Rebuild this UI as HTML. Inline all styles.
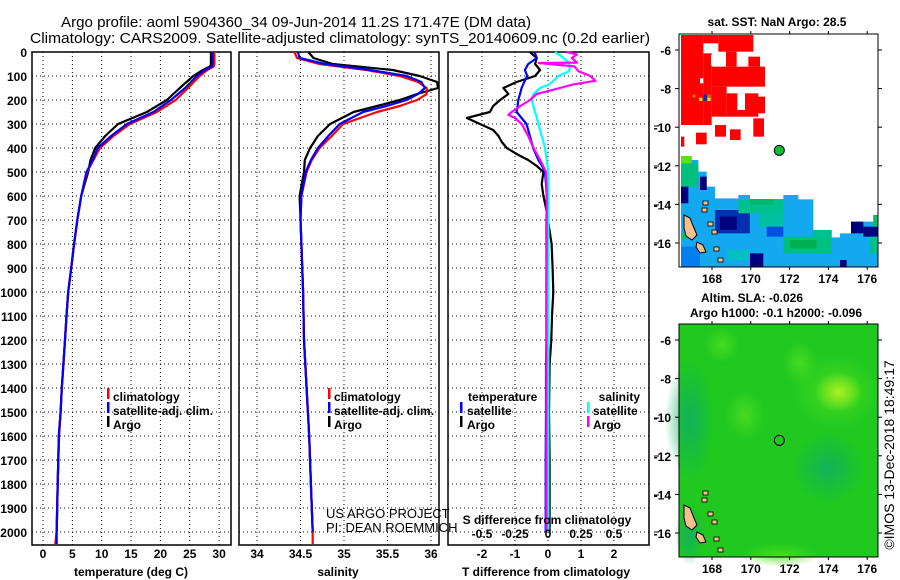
<!DOCTYPE html>
<html><head><meta charset="utf-8"><style>
html,body{margin:0;padding:0;background:#fff;width:900px;height:580px;overflow:hidden}
svg text{font-family:"Liberation Sans",Arial,sans-serif}
.b{font-weight:bold;font-size:12px}
.n{font-weight:normal;font-size:13px}
</style></head><body>
<svg id="fig" xmlns="http://www.w3.org/2000/svg" width="900" height="580" viewBox="0 0 900 580">
<text x="296" y="27" font-size="15" text-anchor="middle" textLength="470" lengthAdjust="spacingAndGlyphs">Argo profile: aoml 5904360_34 09-Jun-2014 11.2S 171.47E (DM data)</text>
<text x="340" y="43" font-size="15" text-anchor="middle" textLength="620" lengthAdjust="spacingAndGlyphs">Climatology: CARS2009. Satellite-adjusted climatology: synTS_20140609.nc (0.2d earlier)</text>
<g id="panels"></g>
<g id="maps"></g>
<text transform="translate(894,455) rotate(-90)" font-size="14" text-anchor="middle">©IMOS 13-Dec-2018 18:49:17</text>
</svg>
<script>
// ---------- data ----------
const depthLevels = [0,25,50,60,75,100,150,200,250,300,350,400,450,500,600,700,800,900,1000,1100,1200,1400,1500,1600,1800,2000,2050];
const tempClim = [29.2,29.2,29.2,29.1,28.0,26.7,24.7,22.6,19.4,14.8,12.0,9.7,8.6,7.5,6.5,5.85,5.3,4.8,4.3,4.0,3.75,3.2,3.0,2.75,2.5,2.3,2.1];
const tempSat  = [28.9,28.9,28.9,28.8,27.6,26.2,24.2,21.8,18.8,14.3,11.6,9.3,8.5,7.4,6.5,5.85,5.3,4.8,4.3,4.0,3.75,3.2,3.0,2.7,2.5,2.33,2.33];
const tempArgo = [28.6,28.6,28.6,28.5,27.2,25.6,23.3,21.1,17.7,12.8,10.6,8.9,8.1,7.7,6.5,5.85,5.3,4.8,4.3,4.0,3.75,3.2,3.0,2.7,2.5,2.33];
const depthSal = [0,25,50,75,100,125,150,175,200,225,250,300,350,400,450,500,600,700,800,1000,1200,1400,1600,1800,2000,2050];
const salClim = [34.43,34.46,34.72,35.26,35.64,35.85,35.95,35.95,35.84,35.64,35.38,34.99,34.86,34.72,34.63,34.57,34.51,34.50,34.51,34.53,34.54,34.57,34.60,34.62,34.64,34.64];
const salSat  = [34.47,34.49,34.78,35.30,35.72,35.89,35.93,35.85,35.72,35.49,35.22,34.95,34.82,34.70,34.62,34.56,34.51,34.50,34.51,34.53,34.54,34.57,34.60,34.62,34.64];
const salArgo = [34.59,34.65,34.87,35.56,35.87,36.07,36.08,35.84,35.64,35.38,35.11,34.84,34.70,34.61,34.55,34.54,34.49,34.50,34.51,34.53,34.54,34.57,34.60,34.62,34.64];
const depthDT = [0,25,50,75,100,125,150,175,200,225,250,275,300,325,350,375,400,425,450,475,500,550,600,650,700,800,900,1000,1100,1200,1300,1500,1700,2000];
const dTSat  = [-0.41,-0.34,-0.6,-0.7,-0.63,-0.72,-0.8,-0.85,-0.9,-0.92,-0.95,-0.8,-0.65,-0.6,-0.55,-0.5,-0.45,-0.37,-0.29,-0.18,-0.09,-0.06,-0.04,-0.04,-0.05,-0.05,-0.05,-0.05,-0.05,-0.05,-0.06,-0.06,-0.07,-0.07];
const dTArgo = [-0.55,-0.34,-0.39,-0.24,-0.39,-0.95,-1.35,-1.2,-1.45,-1.66,-1.76,-2.46,-2.06,-1.66,-1.5,-1.4,-1.25,-0.95,-0.6,-0.34,-0.14,-0.19,-0.14,-0.06,0.0,0.11,0.14,0.16,0.12,0.1,0.05,0.03,0.05,0.05];
const depthDS = [0,10,25,44,46,60,80,100,120,135,150,175,200,225,250,262,275,300,350,400,450,500,600,800,1000,1200,1500,1800,2000];
const dSSat  = [0.053,0.08,0.116,0.16,0.16,0.165,0.16,0.078,0.04,0.01,-0.06,-0.11,-0.124,-0.11,-0.1,-0.09,-0.085,-0.073,-0.048,-0.023,-0.01,0.002,0.002,0.002,0.002,0.002,0.002,0.002,0.002];
const dSArgo = [0.14,0.22,0.18,0.22,-0.07,0.2,0.23,0.32,0.36,0.19,0.09,-0.086,-0.136,-0.21,-0.275,-0.3,-0.25,-0.2,-0.15,-0.11,-0.06,-0.015,-0.01,-0.01,-0.012,-0.012,-0.012,-0.012,-0.012];
const depthTicks = [0,100,200,300,400,500,600,700,800,900,1000,1100,1200,1300,1400,1500,1600,1700,1800,1900,2000];
const tempTicks = [0,5,10,15,20,25,30];
const salTicks = [34,34.5,35,35.5,36];
const salTickLabels = ["34","34.5","35","35.5","36"];
const dTTicks = [-2,-1,0,1,2];
const dSTicks = [-0.5,-0.25,0,0.25,0.5];
const dSTickLabels = ["-0.5","-0.25","0","0.25","0.5"];
const mapLonTicks = [168,170,172,174,176];
const mapLatTicks = [-6,-8,-10,-12,-14,-16];
const floatLon = 171.47, floatLat = -11.2;

// ---------- scales ----------
const NS="http://www.w3.org/2000/svg";
const yD = d => 52 + 0.24*d;
const xT = t => 43 + 5.87*t;
const xS = s => 257 + 87*(s-34);
const xDT = d => 548 + 33*d;
const xDS = d => 548 + 132*d;
const TOP=52, BOT=545;
function mk(tag, attrs, parent){const e=document.createElementNS(NS,tag);for(const k in attrs)e.setAttribute(k,attrs[k]);parent.appendChild(e);return e;}
const panels=document.getElementById('panels');

function panel(name,x0,x1,xs,ticks,labels){
  const g=mk('g',{},panels);
  
  
  for(const d of depthTicks){ if(d===0)continue;
    const l=mk('line',{x1:x0,x2:x1,y1:yD(d),y2:yD(d),stroke:'#000','stroke-width':1,'stroke-dasharray':'1,3'},g);
    
    
  }
  ticks.forEach((t,i)=>{
    const x=xs(t);
    const l=mk('line',{x1:x,x2:x,y1:TOP,y2:BOT,stroke:'#000','stroke-width':1,'stroke-dasharray':'1,3'},g);
    
    
    const tx=mk('text',{x:x,y:558,'text-anchor':'middle',class:'b'},g);
    tx.textContent=labels?labels[i]:String(t);
    
    
  });
  const r=mk('rect',{x:x0,y:TOP,width:x1-x0,height:BOT-TOP,fill:'none',stroke:'#000','stroke-width':1.5},g);
  
  
  return g;
}
function line(g,name,depths,vals,xs,color){
  const n=Math.min(depths.length,vals.length);
  let p='';for(let i=0;i<n;i++)p+=(i?'L':'M')+xs(vals[i]).toFixed(1)+','+yD(depths[i]).toFixed(1);
  const e=mk('path',{d:p,fill:'none',stroke:color,'stroke-width':2.2,'stroke-linejoin':'round'},g);
  
  
}
function txt(g,name,x,y,s,cls,anchor,extra){
  const t=mk('text',Object.assign({x:x,y:y,class:cls||'b','text-anchor':anchor||'start'},extra||{}),g);
  t.textContent=s;
  
  
  return t;
}
function bar(g,name,x,y,color){
  const r=mk('rect',{x:x,y:y-9,width:2.5,height:11,fill:color},g);
  
  
}

// y labels
const yl=mk('g',{},panels);


for(const d of depthTicks){ txt(yl,'y-tick-label',27,yD(d)+5,String(d),'b','end'); }

// panel 1
const g1=panel('temperature-panel',32,231,xT,tempTicks);
line(g1,'temp-argo-line',depthLevels,tempArgo,xT,'#000');
line(g1,'temp-climatology-line',depthLevels,tempClim,xT,'#f00');
line(g1,'temp-satellite-line',depthLevels,tempSat,xT,'#00f');
txt(g1,'temperature-axis-title',131,576,'temperature (deg C)','b','middle');
bar(g1,'legend-climatology-swatch',107,397,'#f00');txt(g1,'legend-climatology',113,401,'climatology');
bar(g1,'legend-satellite-swatch',107,411,'#00f');txt(g1,'legend-satellite',113,415,'satellite-adj. clim.');
bar(g1,'legend-argo-swatch',107,425,'#000');txt(g1,'legend-argo',113,429,'Argo');

// panel 2
const g2=panel('salinity-panel',239,439,xS,salTicks,salTickLabels);
line(g2,'sal-argo-line',depthSal,salArgo,xS,'#000');
line(g2,'sal-climatology-line',depthSal,salClim,xS,'#f00');
line(g2,'sal-satellite-line',depthSal,salSat,xS,'#00f');
txt(g2,'salinity-axis-title',338,576,'salinity','b','middle');
bar(g2,'legend-climatology-swatch',328,397,'#f00');txt(g2,'legend-climatology',334,401,'climatology');
bar(g2,'legend-satellite-swatch',328,411,'#00f');txt(g2,'legend-satellite',334,415,'satellite-adj. clim.');
bar(g2,'legend-argo-swatch',328,425,'#000');txt(g2,'legend-argo',334,429,'Argo');
txt(g2,'project-credit',326,518,'US ARGO PROJECT','n','start');
txt(g2,'pi-credit',326,532,'PI: DEAN ROEMMICH','n','start');

// panel 3
const g3=panel('difference-panel',448,649,xDT,dTTicks);
line(g3,'dT-argo-line',depthDT,dTArgo,xDT,'#000');
line(g3,'dT-satellite-line',depthDT,dTSat,xDT,'#00f');
line(g3,'dS-satellite-line',depthDS,dSSat,xDS,'#0ff');
line(g3,'dS-argo-line',depthDS,dSArgo,xDS,'#f0f');
txt(g3,'t-diff-axis-title',546,576,'T difference from climatology','b','middle');
txt(g3,'s-diff-axis-title',547,524,'S difference from climatology','b','middle');
dSTicks.forEach((v,i)=>{txt(g3,'s-tick-label',xDS(v),538,dSTickLabels[i],'b','middle');});
txt(g3,'legend-temperature-header',468,401,'temperature');
bar(g3,'legend-t-satellite-swatch',460,411,'#00f');txt(g3,'legend-t-satellite',467,415,'satellite');
bar(g3,'legend-t-argo-swatch',460,425,'#000');txt(g3,'legend-t-argo',467,429,'Argo');
txt(g3,'legend-salinity-header',640,401,'salinity','b','end');
bar(g3,'legend-s-satellite-swatch',587,411,'#0ff');txt(g3,'legend-s-satellite',593,415,'satellite');
bar(g3,'legend-s-argo-swatch',587,425,'#f0f');txt(g3,'legend-s-argo',593,429,'Argo');
[126,166,205,243,418,456,495,532].forEach(y=>{mk('line',{x1:654,x2:659,y1:y,y2:y,stroke:'#000','stroke-width':1},g3);});

// ---------- maps ----------
const maps=document.getElementById('maps');
const MX0=679,MX1=878;
const mx = lon => 712 + (lon-168)*19.4;
function mapFrame(name){
  const g=mk('g',{},maps);
  
  
  return g;
}
function axes(g,top,bot,latOffset){
  const my = lat => 50 + latOffset + (-6-lat)*19.3;
  mapLatTicks.forEach(l=>{txt(g,'lat-tick-label',671,my(l)+5,String(l),'b','end',{'font-size':13});
    mk('line',{x1:MX0-4,x2:MX0,y1:my(l),y2:my(l),stroke:'#000'},g);mk('line',{x1:MX1,x2:MX1+4,y1:my(l),y2:my(l),stroke:'#000'},g);});
  mapLonTicks.forEach(l=>{txt(g,'lon-tick-label',mx(l),bot+16,String(l),'b','middle',{'font-size':13});
    mk('line',{x1:mx(l),x2:mx(l),y1:bot,y2:bot+3,stroke:'#000'},g);mk('line',{x1:mx(l),x2:mx(l),y1:top-3,y2:top,stroke:'#000'},g);});
  const r=mk('rect',{x:MX0,y:top,width:MX1-MX0,height:bot-top,fill:'none',stroke:'#000','stroke-width':1},g);
  
  
  return my;
}
function islands(g,off){
  const pts=[[684,215],[690,218],[694,228],[697,235],[692,240],[686,236],[684,228]];
  const p=mk('polygon',{points:pts.map(q=>q[0]+','+(q[1]+off)).join(' '),fill:'#f5c08c',stroke:'#000','stroke-width':1},g);
  
  
  const p2=mk('polygon',{points:[[697,242],[703,245],[706,252],[700,253],[696,247]].map(q=>q[0]+','+(q[1]+off)).join(' '),fill:'#f5c08c',stroke:'#000','stroke-width':1},g);
  
  
  [[702,208],[703,201],[712,230],[714,247],[718,258],[708,222]].forEach(q=>{mk('rect',{x:q[0],y:q[1]+off,width:5,height:4,fill:'#f5c08c',stroke:'#000','stroke-width':0.8},g);});
}
// top map (SST)
const gm1=mapFrame('sst-map');
txt(gm1,'sst-map-title',777,26,'sat. SST: NaN Argo: 28.5','b','middle',{'font-size':13});
mk('rect',{x:MX0,y:34,width:MX1-MX0,height:233,fill:'#fff'},gm1);
const Z=(a)=>[650+a[0]/3,a[1]/3,(a[2]-a[0])/3,(a[3]-a[1])/3];
function zr(g,a,c){const z=Z(a);mk('rect',{x:z[0],y:z[1],width:z[2],height:z[3],fill:c},g);}
[[93,105,160,375],[160,160,185,375],[185,200,345,260],[205,105,310,155],[228,155,260,200],[295,170,330,200],[185,260,230,350],[230,280,325,350],[310,290,345,340],[195,375,228,410],[240,388,272,420],[310,355,342,410],[138,398,170,433],[93,410,103,440],[160,105,205,130]].forEach(a=>zr(gm1,a,'#f00'));
[[262,280,285,330],[150,235,160,250],[183,165,200,195]].forEach(a=>zr(gm1,a,'#fff'));
zr(gm1,[127,283,137,293],'#e06000');zr(gm1,[172,283,182,293],'#e06000');zr(gm1,[160,283,170,303],'#0030c0');zr(gm1,[147,293,157,303],'#c0f000');zr(gm1,[172,293,182,303],'#c0f000');
const poly=[[93,468],[125,468],[125,480],[145,480],[145,515],[170,515],[170,560],[195,560],[195,595],[265,595],[265,585],[300,585],[300,597],[400,597],[400,585],[445,585],[445,598],[490,598],[490,690],[545,690],[545,712],[570,712],[570,700],[605,700],[605,665],[670,665],[670,645],[684,645],[684,800],[93,800]];
mk('polygon',{points:poly.map(q=>(650+q[0]/3)+','+(q[1]/3)).join(' '),fill:'#14a8f0'},gm1);
[[93,490,145,560,'#00c080'],[93,468,125,490,'#60e000'],[93,560,115,610,'#00007f'],[150,530,170,570,'#00007f'],[195,630,300,700,'#0030b0'],[210,650,260,690,'#00007f'],[300,760,340,800,'#00007f'],[603,665,640,700,'#00007f'],[640,680,684,710,'#00007f'],[265,600,400,640,'#00c090'],[300,597,370,615,'#00b870'],[400,710,545,760,'#00c080'],[420,720,500,745,'#00b050'],[93,700,110,720,'#00c080'],[330,640,400,680,'#00c0a0'],[230,750,300,780,'#00c0c0'],[490,690,545,715,'#00c090'],[570,780,590,800,'#00007f'],[660,710,684,760,'#00c090'],[670,645,684,680,'#00c060'],[93,740,150,800,'#0080f0'],[350,680,400,710,'#0050e0']].forEach(a=>zr(gm1,a.slice(0,4),a[4]));
islands(gm1,0);
const myTop=axes(gm1,34,267,0);
const c1=mk('circle',{cx:mx(floatLon),cy:myTop(floatLat),r:5,fill:'#10c030',stroke:'#000','stroke-width':1},gm1);



// bottom map (SLA)
const gm2=mapFrame('sla-map');
txt(gm2,'sla-map-title',752,302,'Altim. SLA: -0.026','b','middle',{'font-size':13});
txt(gm2,'argo-height-title',776,317,'Argo h1000: -0.1 h2000: -0.096','b','middle',{'font-size':13});
const defs=mk('defs',{},gm2);
function rg(id,c,o){const r=mk('radialGradient',{id:id},defs);mk('stop',{offset:'0%','stop-color':c,'stop-opacity':o},r);mk('stop',{offset:'100%','stop-color':c,'stop-opacity':0},r);}
rg('lg1','#a8f020',1);rg('lg2','#50e020',0.8);rg('tg1','#10b060',0.9);
mk('rect',{x:MX0,y:324,width:MX1-MX0,height:233,fill:'#20c820'},gm2);
mk('ellipse',{cx:836,cy:392,rx:45,ry:38,fill:'url(#lg2)'},gm2);
mk('ellipse',{cx:839,cy:392,rx:24,ry:20,fill:'url(#lg1)'},gm2);
mk('ellipse',{cx:828,cy:468,rx:35,ry:35,fill:'url(#tg1)'},gm2);
mk('ellipse',{cx:690,cy:420,rx:25,ry:60,fill:'url(#tg1)'},gm2);
mk('ellipse',{cx:745,cy:415,rx:20,ry:25,fill:'url(#lg2)'},gm2);
mk('ellipse',{cx:800,cy:363,rx:18,ry:22,fill:'url(#lg2)'},gm2);
mk('ellipse',{cx:722,cy:345,rx:18,ry:18,fill:'url(#lg2)'},gm2);
mk('ellipse',{cx:780,cy:555,rx:40,ry:12,fill:'url(#lg2)'},gm2);
mk('ellipse',{cx:690,cy:535,rx:15,ry:30,fill:'url(#tg1)'},gm2);
islands(gm2,290);
const myBot=axes(gm2,324,557,290);
const c2=mk('circle',{cx:mx(floatLon),cy:myBot(floatLat),r:5,fill:'none',stroke:'#000','stroke-width':1},gm2);


</script>
</body></html>
